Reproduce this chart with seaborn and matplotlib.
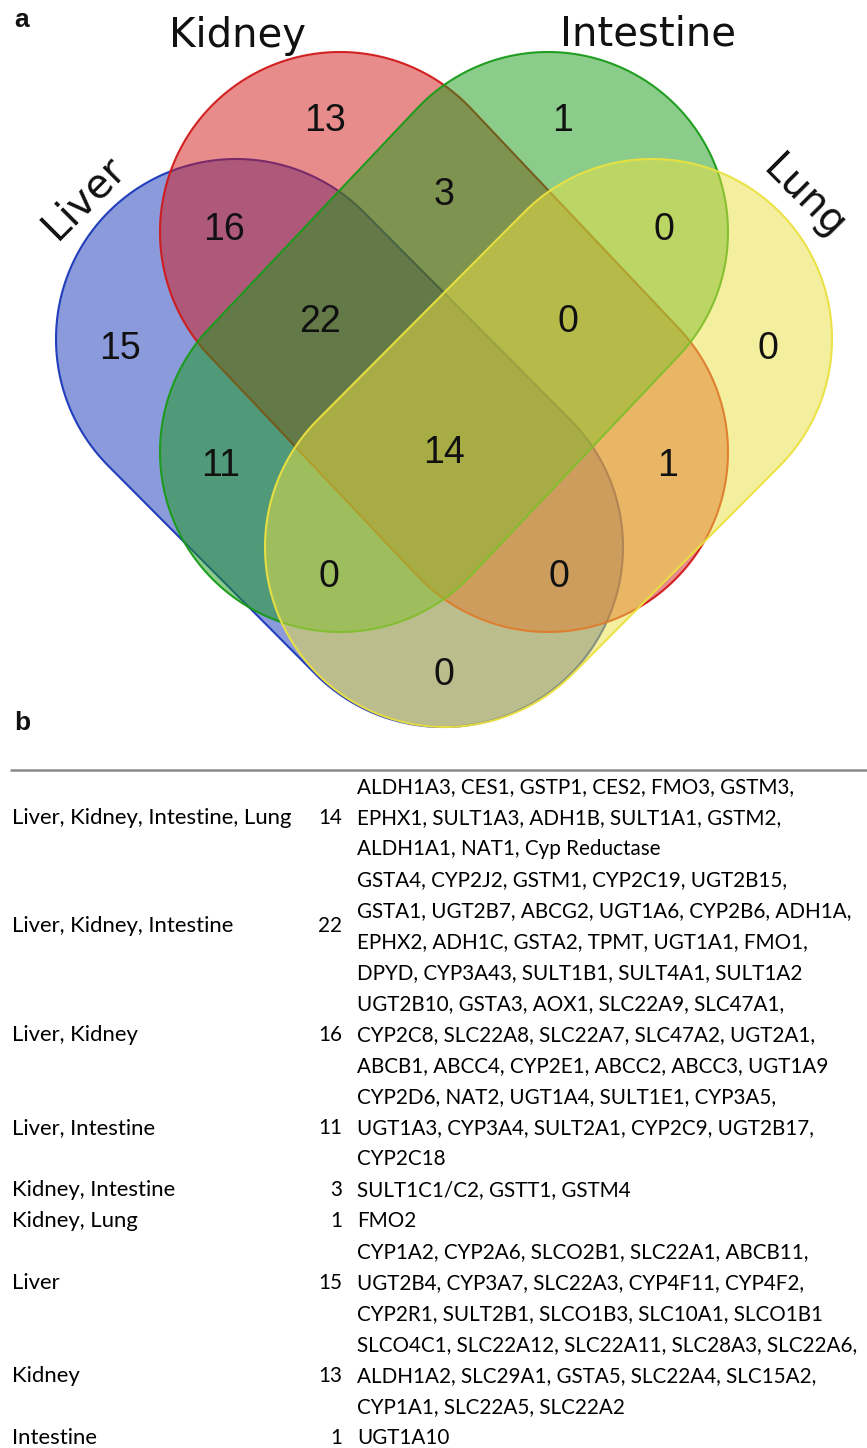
import matplotlib
matplotlib.use("Agg")
import matplotlib.pyplot as plt
import numpy as np
import seaborn as sns
from matplotlib.colors import to_rgba
from matplotlib.patches import Polygon

# ---- data -------------------------------------------------------------
SETS = ["Liver", "Kidney", "Intestine", "Lung"]
SET_COLORS = ["#1937b9", "#d11919", "#199b19", "#ebe141"]

# membership code: Liver, Kidney, Intestine, Lung
REGION_CODES = ["1000", "0100", "0010", "0001",
                "1100", "1010", "1001", "0110", "0101", "0011",
                "1110", "1101", "1011", "0111", "1111"]
REGION_COUNTS = [15, 13, 1, 0,
                 16, 11, 0, 3, 1, 0,
                 22, 0, 0, 0, 14]

TABLE_SETS = [
    "Liver, Kidney, Intestine, Lung",
    "Liver, Kidney, Intestine",
    "Liver, Kidney",
    "Liver, Intestine",
    "Kidney, Intestine",
    "Kidney, Lung",
    "Liver",
    "Kidney",
    "Intestine",
]
TABLE_COUNTS = [14, 22, 16, 11, 3, 1, 15, 13, 1]
TABLE_GENES = [
    ["ALDH1A3, CES1, GSTP1, CES2, FMO3, GSTM3,",
     "EPHX1, SULT1A3, ADH1B, SULT1A1, GSTM2,",
     "ALDH1A1, NAT1, Cyp Reductase"],
    ["GSTA4, CYP2J2, GSTM1, CYP2C19, UGT2B15,",
     "GSTA1, UGT2B7, ABCG2, UGT1A6, CYP2B6, ADH1A,",
     "EPHX2, ADH1C, GSTA2, TPMT, UGT1A1, FMO1,",
     "DPYD, CYP3A43, SULT1B1, SULT4A1, SULT1A2"],
    ["UGT2B10, GSTA3, AOX1, SLC22A9, SLC47A1,",
     "CYP2C8, SLC22A8, SLC22A7, SLC47A2, UGT2A1,",
     "ABCB1, ABCC4, CYP2E1, ABCC2, ABCC3, UGT1A9"],
    ["CYP2D6, NAT2, UGT1A4, SULT1E1, CYP3A5,",
     "UGT1A3, CYP3A4, SULT2A1, CYP2C9, UGT2B17,",
     "CYP2C18"],
    ["SULT1C1/C2, GSTT1, GSTM4"],
    ["FMO2"],
    ["CYP1A2, CYP2A6, SLCO2B1, SLC22A1, ABCB11,",
     "UGT2B4, CYP3A7, SLC22A3, CYP4F11, CYP4F2,",
     "CYP2R1, SULT2B1, SLCO1B3, SLC10A1, SLCO1B1"],
    ["SLCO4C1, SLC22A12, SLC22A11, SLC28A3, SLC22A6,",
     "ALDH1A2, SLC29A1, GSTA5, SLC22A4, SLC15A2,",
     "CYP1A1, SLC22A5, SLC22A2"],
    ["UGT1A10"],
]

# ---- layout (figure pixels, y grows downwards) ------------------------
W, H = 867, 1448
RADIUS = 180
CAPS = {
    "Liver": ((236, 339), (443, 547)),
    "Kidney": ((340, 232), (548, 452)),
    "Intestine": ((548, 232), (340, 452)),
    "Lung": ((652, 339), (445, 547)),
}
SET_LABELS = {
    "Liver": dict(xy=(84, 198), rotation=45),
    "Kidney": dict(xy=(238, 36), rotation=0),
    "Intestine": dict(xy=(648, 34), rotation=0),
    "Lung": dict(xy=(804, 198), rotation=-45),
}
ROW_TOP, ROW_STEP = 787, 31
COL_LABEL, COL_COUNT, COL_GENES = 12, 342, 357


def stadium(c1, c2, r, n=160):
    c1 = np.asarray(c1, float)
    c2 = np.asarray(c2, float)
    phi = np.arctan2(c2[1] - c1[1], c2[0] - c1[0])
    a1 = np.linspace(phi + np.pi / 2, phi + 3 * np.pi / 2, n)
    a2 = np.linspace(phi - np.pi / 2, phi + np.pi / 2, n)
    p1 = c1 + r * np.c_[np.cos(a1), np.sin(a1)]
    p2 = c2 + r * np.c_[np.cos(a2), np.sin(a2)]
    return np.vstack([p1, p2])


def signed_depth(X, Y, c1, c2, r):
    # r minus distance to the stadium's spine: >0 inside, <0 outside
    c1 = np.asarray(c1, float)
    d = np.asarray(c2, float) - c1
    t = np.clip(((X - c1[0]) * d[0] + (Y - c1[1]) * d[1]) / (d @ d), 0, 1)
    return r - np.hypot(X - (c1[0] + t * d[0]), Y - (c1[1] + t * d[1]))


def region_anchor(code, X, Y, depths, slack=3.0):
    # middle of the ridge of points lying farthest from every outline
    clearance = np.full(X.shape, np.inf)
    for bit, dep in zip(code, depths):
        clearance = np.minimum(clearance, dep if bit == "1" else -dep)
    ridge = clearance >= clearance.max() - slack
    return X[ridge].mean(), Y[ridge].mean()


sns.set_theme(style="white")
fig = plt.figure(figsize=(W / 100, H / 100), dpi=100)
ax = fig.add_axes([0, 0, 1, 1])
ax.set_xlim(0, W)
ax.set_ylim(H, 0)
ax.axis("off")

palette = sns.color_palette(SET_COLORS)
for name, color in zip(SETS, palette):
    c1, c2 = CAPS[name]
    ax.add_patch(Polygon(stadium(c1, c2, RADIUS), closed=True,
                         facecolor=to_rgba(color, 0.5),
                         edgecolor=to_rgba(color, 0.95), linewidth=1.5))

gx, gy = np.meshgrid(np.arange(0, W, 1.0), np.arange(0, 760, 1.0))
depths = [signed_depth(gx, gy, *CAPS[name], RADIUS) for name in SETS]
for code, count in zip(REGION_CODES, REGION_COUNTS):
    x, y = region_anchor(code, gx, gy, depths)
    ax.text(x, y + 3, str(count), ha="center", va="center_baseline",
            fontsize=27, family="Liberation Sans", color="#111111")

for name in SETS:
    lab = SET_LABELS[name]
    ax.text(*lab["xy"], name, ha="center", va="center", rotation=lab["rotation"],
            rotation_mode="anchor", fontsize=29, family="DejaVu Sans", color="#111111")

ax.text(14, 20, "a", ha="left", va="center", fontsize=19, fontweight="bold",
        family="Liberation Sans", color="#111111")
ax.text(14, 723, "b", ha="left", va="center", fontsize=19, fontweight="bold",
        family="Liberation Sans", color="#111111")
ax.plot([10, W], [770, 770], color="#8a8a8a", linewidth=1.8, solid_capstyle="butt")

gene_font = dict(family=["Lato", "DejaVu Sans"], fontsize=14.9, color="black")
label_font = dict(gene_font, fontsize=15.9)
line = 0
for label, count, genes in zip(TABLE_SETS, TABLE_COUNTS, TABLE_GENES):
    mid = ROW_TOP + ROW_STEP * (line + (len(genes) - 1) / 2)
    ax.text(COL_LABEL, mid, label, ha="left", va="center", **label_font)
    ax.text(COL_COUNT, mid, str(count), ha="right", va="center", **gene_font)
    for g in genes:
        ax.text(COL_GENES, ROW_TOP + ROW_STEP * line, g, ha="left", va="center", **gene_font)
        line += 1

fig.savefig("out.png", dpi=100)
plt.close(fig)
